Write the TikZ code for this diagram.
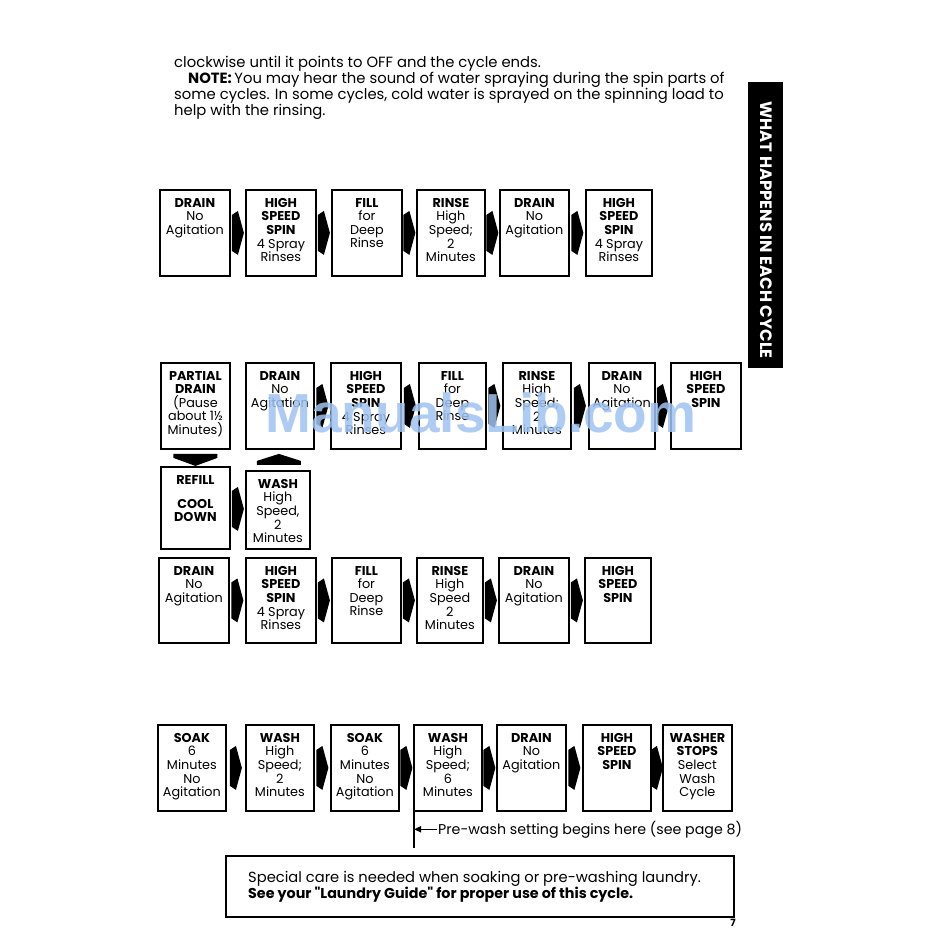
\documentclass[tikz,border=0pt]{standalone}
\usepackage{fontspec}
\setmainfont{Poppins}[Ligatures=TeXOff]
\newfontfamily\wmfont{Liberation Sans}
\usetikzlibrary{calc,arrows.meta}
\definecolor{wmblue}{RGB}{160,196,242}
\tikzset{
  cbox/.style={draw=black, line width=1.8pt, anchor=north west, inner sep=0pt},
  ctxt/.style={anchor=north, align=center, inner sep=0pt, font=\fontsize{12.8}{13.6}\selectfont},
  bodytxt/.style={anchor=base west, inner sep=0pt, font=\fontsize{14.8}{16}\selectfont},
}
\newcommand\cyc[6]{%
  \node[cbox, minimum width={(#4-#2)*1pt}, minimum height={(#5-#3)*1pt}] (#1) at (#2,#3) {};
  \node[ctxt] (#1t) at ([yshift=-9pt]#1.north) {#6};}
\newcommand\rar[2]{%
  \fill ($(#1.east)!.5!(#2.west)$) ++(-6,-18) -- ++(6,-4) -- ++(6,22) -- ++(-6,22) -- ++(-6,-4) -- cycle;}
\begin{document}
\begin{tikzpicture}[x=1pt,y=-1pt]
\useasboundingbox (0,0) rectangle (950,930);
\fill[white] (0,0) rectangle (950,930);

% top text
\node[bodytxt] (l1) at (174,67) {clockwise until it points to OFF and the cycle ends.};
\node[bodytxt] (l2) at (188,83) {\textbf{NOTE:}\,You may hear the sound of water spraying during the spin parts of};
\node[bodytxt] (l3) at (174,99) {some cycles. In some cycles, cold water is sprayed on the spinning load to};
\node[bodytxt] (l4) at (174,115) {help with the rinsing.};

% side tab
\node[fill=black, minimum width=35pt, minimum height=286pt, anchor=north west, inner sep=0pt] (tab) at (748,82) {};
\node[rotate=-90, text=white, inner sep=0pt, font=\bfseries\fontsize{16.5}{16.5}\selectfont] (tabt) at (766,230) {WHAT HAPPENS IN EACH CYCLE};

% row 1
\cyc{a1}{159}{189}{229}{275}{\textbf{DRAIN}\\No\\Agitation}
\cyc{a2}{245}{189}{315}{275}{\textbf{HIGH}\\\textbf{SPEED}\\\textbf{SPIN}\\4 Spray\\Rinses}
\cyc{a3}{331}{189}{401}{275}{\textbf{FILL}\\for\\Deep\\Rinse}
\cyc{a4}{416}{189}{484}{275}{\textbf{RINSE}\\High\\Speed;\\2\\Minutes}
\cyc{a5}{499}{189}{568}{275}{\textbf{DRAIN}\\No\\Agitation}
\cyc{a6}{585}{189}{651}{275}{\textbf{HIGH}\\\textbf{SPEED}\\\textbf{SPIN}\\4 Spray\\Rinses}
\rar{a1}{a2}\rar{a2}{a3}\rar{a3}{a4}\rar{a4}{a5}\rar{a5}{a6}

% row 2
\cyc{b1}{160}{362}{229}{448}{\textbf{PARTIAL}\\\textbf{DRAIN}\\(Pause\\about 1½\\Minutes)}
\cyc{b2}{245}{362}{313}{448}{\textbf{DRAIN}\\No\\Agitation}
\cyc{b3}{330}{362}{400}{448}{\textbf{HIGH}\\\textbf{SPEED}\\\textbf{SPIN}\\4 Spray\\Rinses}
\cyc{b4}{418}{362}{485}{448}{\textbf{FILL}\\for\\Deep\\Rinse}
\cyc{b5}{502}{362}{570}{448}{\textbf{RINSE}\\High\\Speed;\\2\\Minutes}
\cyc{b6}{588}{362}{654}{448}{\textbf{DRAIN}\\No\\Agitation}
\cyc{b7}{670}{362}{740}{448}{\textbf{HIGH}\\\textbf{SPEED}\\\textbf{SPIN}}
\rar{b2}{b3}\rar{b3}{b4}\rar{b4}{b5}\rar{b5}{b6}\rar{b6}{b7}

% refill / wash
\cyc{r1}{160}{466}{229}{548}{\textbf{REFILL}\\[10.5pt]\textbf{COOL}\\\textbf{DOWN}}
\cyc{r2}{245}{470}{309}{548}{\textbf{WASH}\\High\\Speed,\\2\\Minutes}
\rar{r1}{r2}
\fill ($(b1.south)!.5!(r1.north)$) ++(-22,-4) -- ++(44,0) -- ++(0,4) -- ++(-22,8) -- ++(-22,-8) -- cycle;
\fill ($(b2.south)!.5!(r2.north)$) ++(-22,5) -- ++(44,0) -- ++(0,-4) -- ++(-22,-7) -- ++(-22,7) -- cycle;

% row 3
\cyc{c1}{158}{557}{228}{642}{\textbf{DRAIN}\\No\\Agitation}
\cyc{c2}{245}{557}{315}{642}{\textbf{HIGH}\\\textbf{SPEED}\\\textbf{SPIN}\\4 Spray\\Rinses}
\cyc{c3}{331}{557}{400}{642}{\textbf{FILL}\\for\\Deep\\Rinse}
\cyc{c4}{416}{557}{482}{642}{\textbf{RINSE}\\High\\Speed\\2\\Minutes}
\cyc{c5}{498}{557}{568}{642}{\textbf{DRAIN}\\No\\Agitation}
\cyc{c6}{584}{557}{650}{642}{\textbf{HIGH}\\\textbf{SPEED}\\\textbf{SPIN}}
\rar{c1}{c2}\rar{c2}{c3}\rar{c3}{c4}\rar{c4}{c5}\rar{c5}{c6}

% row 4
\cyc{d1}{157}{724}{225}{810}{\textbf{SOAK}\\6\\Minutes\\No\\Agitation}
\cyc{d2}{245}{724}{313}{810}{\textbf{WASH}\\High\\Speed;\\2\\Minutes}
\cyc{d3}{330}{724}{398}{810}{\textbf{SOAK}\\6\\Minutes\\No\\Agitation}
\cyc{d4}{413}{724}{481}{810}{\textbf{WASH}\\High\\Speed;\\6\\Minutes}
\cyc{d5}{496}{724}{565}{810}{\textbf{DRAIN}\\No\\Agitation}
\cyc{d6}{582}{724}{650}{810}{\textbf{HIGH}\\\textbf{SPEED}\\\textbf{SPIN}}
\cyc{d7}{662}{724}{731}{810}{\textbf{WASHER}\\\textbf{STOPS}\\Select\\Wash\\Cycle}
\rar{d1}{d2}\rar{d2}{d3}\rar{d3}{d4}\rar{d4}{d5}\rar{d5}{d6}\rar{d6}{d7}

% pre-wash marker
\coordinate (pwa) at (414,812);
\coordinate (pwb) at (414,848);
\draw[line width=1.5pt] (pwa) -- (pwb);
\node[bodytxt, font=\fontsize{14.2}{16}\selectfont] (pwt) at (438,834) {Pre-wash setting begins here (see page 8)};
\draw[line width=1.5pt, -{Triangle[length=7pt,width=6pt]}] ([xshift=-1pt]pwt.west) -- (pwt.west -| pwa);

% note box
\node[draw, line width=2pt, minimum width=508pt, minimum height=61pt, anchor=north west, inner sep=0pt] (note) at (225,855) {};
\node[bodytxt, font=\fontsize{14.7}{16}\selectfont] (n1) at (248,882) {Special care is needed when soaking or pre-washing laundry.};
\node[bodytxt, font=\fontsize{14.3}{16}\selectfont] (n2) at (248,898) {\textbf{See your "Laundry Guide" for proper use of this cycle.}};

% page number
\node[anchor=base, inner sep=0pt, font=\bfseries\fontsize{10}{10}\selectfont] (pg) at (733,926) {7};

% watermark
\node[anchor=base, inner sep=0pt, text=wmblue, opacity=.85, font=\wmfont\bfseries\fontsize{55}{55}\selectfont] (wm) at (481,432) {ManualsLib.com};
\end{tikzpicture}
\end{document}
